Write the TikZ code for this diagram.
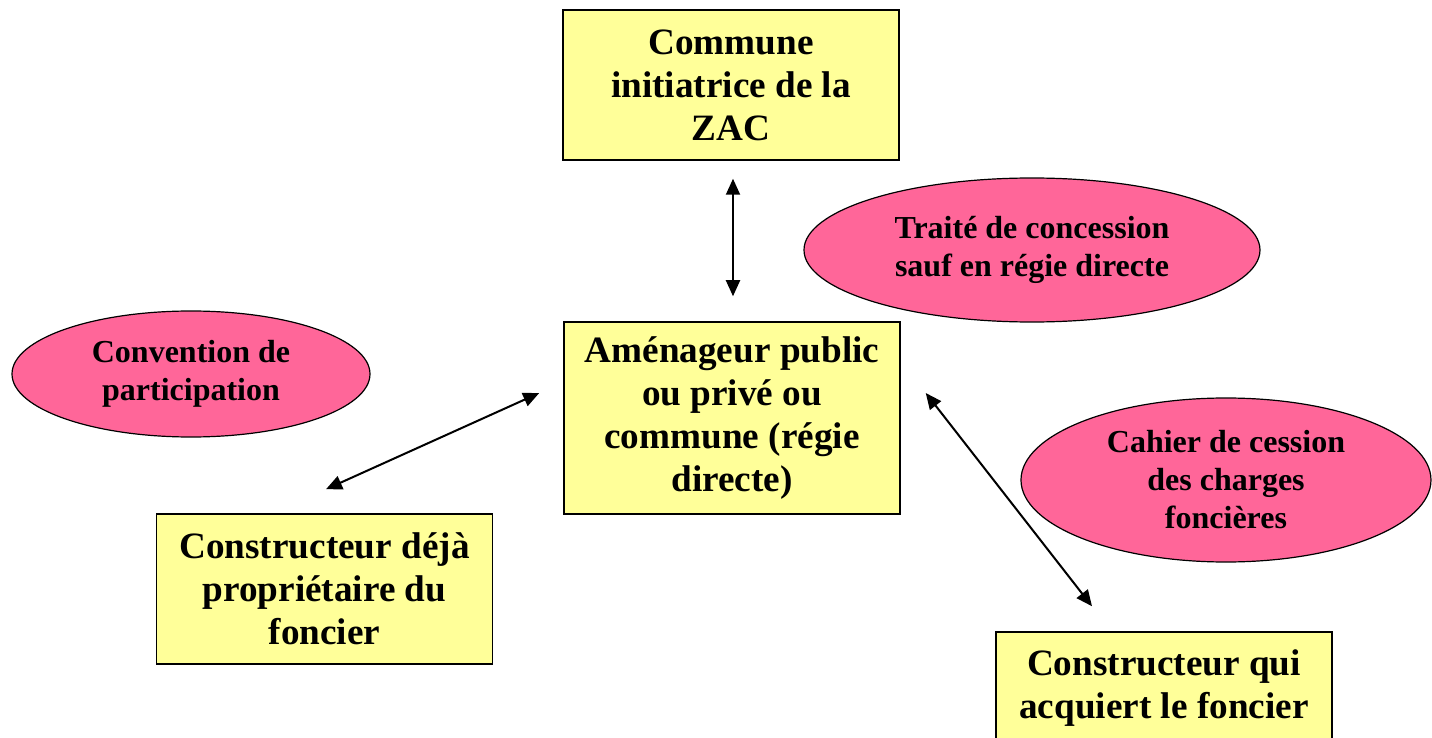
\documentclass[tikz,border=0pt]{standalone}
\usepackage{fontspec}
\setmainfont{Liberation Serif}
\usetikzlibrary{shapes, arrows.meta, calc}
\definecolor{boxyellow}{HTML}{FFFF99}
\definecolor{ovalpink}{HTML}{FF6699}

\begin{document}
\begin{tikzpicture}[x=0.5pt,y=-0.5pt,thick]

\tikzstyle{actor}=[rectangle, draw, line width=0.75pt, fill=boxyellow, text=black, align=center, font=\fontsize{18.6}{21.5}\selectfont\bfseries, minimum width=168pt, inner sep=0pt]
\tikzstyle{contract}=[ellipse, draw, line width=0.6pt, fill=ovalpink, text=black, align=center, font=\fontsize{16}{19}\selectfont\bfseries, inner sep=0pt]
\tikzstyle{link}=[{Triangle[length=8pt,width=7pt]}-{Triangle[length=8pt,width=7pt]}, line width=1pt, black]

	\useasboundingbox (0,0) rectangle (1432,738);

	\node[actor, minimum height=75pt] (commune) at (731,85)    {Commune\\initiatrice de la\\ZAC};
	\node[actor, minimum height=96pt] (amen)    at (732,418)   {Aménageur public\\ou privé ou\\commune (régie\\directe)};
	\node[actor, minimum height=75pt] (deja)    at (324.5,589) {Constructeur déjà\\propriétaire du\\foncier};
	\node[actor, minimum height=56pt] (acq)     at (1164,688)  {Constructeur qui\\acquiert le foncier};

	% contrats
	\node[contract, minimum width=228pt, minimum height=72pt] (traite)     at (1032,250) {Traité de concession\\sauf en régie directe};
	\node[contract, minimum width=179pt, minimum height=63pt] (convention) at (191,374)  {Convention de\\participation};
	\node[contract, minimum width=205pt, minimum height=82pt] (cahier)     at (1226,480) {Cahier de cession\\des charges\\foncières};

	% liens
	\draw[link] ($(commune.south)+(2,18)$) -- ($(amen.north)+(1,-25)$);
	\draw[link] ($(deja.north)+(1.5,-24)$) -- ($(amen.west)+(-24,-25)$);
	\draw[link] ($(amen.east)+(25,-25)$)   -- ($(acq.north)+(-72,-25)$);
\end{tikzpicture}
\end{document}
